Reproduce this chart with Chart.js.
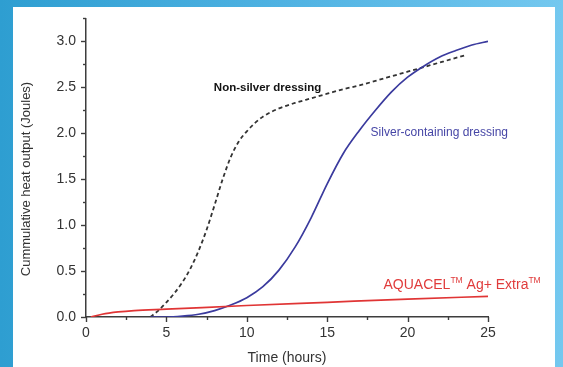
<!DOCTYPE html>
<html>
<head>
<meta charset="utf-8">
<script src="https://cdn.jsdelivr.net/npm/chart.js@4.4.1/dist/chart.umd.min.js"></script>
<style>
  html, body { margin: 0; padding: 0; }
  body { width: 563px; height: 367px; overflow: hidden; position: relative;
         background: linear-gradient(90deg, #2e9ed1 0%, #4fb2e2 50%, #74c8ef 100%); }
  #panel { position: absolute; left: 13px; top: 7px; width: 542px; height: 360px; background: #ffffff; }
  #c { position: absolute; left: 0; top: 0; }
</style>
</head>
<body>
<div id="panel"></div>
<canvas id="c" width="563" height="367"></canvas>
<script>
// ---- data ----
const nonSilverTime = [4.0, 4.5, 5.0, 5.5, 6.0, 6.5, 7.0, 7.5, 8.0, 8.5, 9.0, 9.5, 10.0, 10.5, 11.0, 12.0, 13.0, 14.0, 15.0, 16.0, 17.0, 18.0, 19.0, 20.0, 21.0, 22.0, 23.0, 23.6];
const nonSilverHeat = [0.0, 0.07, 0.16, 0.26, 0.38, 0.53, 0.72, 0.95, 1.22, 1.50, 1.74, 1.91, 2.02, 2.11, 2.18, 2.27, 2.33, 2.38, 2.43, 2.48, 2.52, 2.57, 2.62, 2.67, 2.72, 2.77, 2.82, 2.85];

const silverTime = [4.0, 5.0, 6.0, 7.0, 8.0, 9.0, 10.0, 11.0, 12.0, 13.0, 14.0, 15.0, 16.0, 17.0, 18.0, 19.0, 20.0, 21.0, 22.0, 23.0, 24.0, 25.0];
const silverHeat = [0.0, 0.0, 0.01, 0.03, 0.07, 0.13, 0.21, 0.33, 0.51, 0.76, 1.08, 1.45, 1.78, 2.03, 2.25, 2.45, 2.61, 2.73, 2.83, 2.90, 2.96, 3.0];

const aquacelTime = [0.3, 1.0, 2.0, 3.0, 5.0, 10.0, 15.0, 20.0, 25.0];
const aquacelHeat = [0.0, 0.03, 0.055, 0.07, 0.085, 0.125, 0.16, 0.195, 0.225];

const xTickStep = 5, xMinorStep = 2.5, xMin = 0, xMax = 25;
const yTickStep = 0.5, yMinorStep = 0.25, yMin = 0, yMax = 3.25;

const labelNonSilver = "Non-silver dressing";
const labelSilver = "Silver-containing dressing";
const labelAquacel = ["AQUACEL", "TM", " Ag+ Extra", "TM"];
const xTitle = "Time (hours)";
const yTitle = "Cummulative heat output (Joules)";

function pts(xs, ys) { return xs.map((x, i) => ({ x: x, y: ys[i] })); }

const FONT = "'Liberation Sans', Arial, sans-serif";
const AXIS_COLOR = '#3d3d3d';

const decorations = {
  id: 'decorations',
  afterDraw(chart) {
    const ctx = chart.ctx;
    const xs = chart.scales.x, ys = chart.scales.y;
    const area = chart.chartArea;
    ctx.save();
    ctx.strokeStyle = AXIS_COLOR;
    ctx.lineWidth = 1.4;
    for (let v = yMin; v <= yMax + 1e-9; v += yMinorStep) {
      const major = Math.abs(v / yTickStep - Math.round(v / yTickStep)) < 1e-6;
      const py = Math.round(ys.getPixelForValue(v)) + 0.5;
      ctx.beginPath();
      ctx.moveTo(area.left - (major ? 5 : 3), py);
      ctx.lineTo(area.left, py);
      ctx.stroke();
    }
    for (let v = xMin; v <= xMax + 1e-9; v += xMinorStep) {
      const major = Math.abs(v / xTickStep - Math.round(v / xTickStep)) < 1e-6;
      const px = Math.round(xs.getPixelForValue(v)) + 0.5;
      ctx.beginPath();
      ctx.moveTo(px, area.bottom);
      ctx.lineTo(px, area.bottom + (major ? 5 : 3));
      ctx.stroke();
    }
    ctx.fillStyle = '#333333';
    ctx.font = '13px ' + FONT;
    ctx.textAlign = 'center';
    ctx.textBaseline = 'middle';
    ctx.translate(26, 179);
    ctx.rotate(-Math.PI / 2);
    ctx.fillText(yTitle, 0, 0);
    ctx.restore();

    ctx.save();
    ctx.textBaseline = 'middle';
    ctx.textAlign = 'left';
    ctx.font = 'bold 11.5px ' + FONT;
    ctx.fillStyle = '#111111';
    ctx.fillText(labelNonSilver, xs.getPixelForValue(7.95), ys.getPixelForValue(2.49));

    ctx.font = '12px ' + FONT;
    ctx.fillStyle = '#4646a6';
    ctx.fillText(labelSilver, xs.getPixelForValue(17.7), ys.getPixelForValue(2.01));

    ctx.fillStyle = '#e03b3b';
    let ax = xs.getPixelForValue(18.5);
    const ay = ys.getPixelForValue(0.345);
    labelAquacel.forEach((part, i) => {
      const sup = (i % 2 === 1);
      ctx.font = (sup ? '8.5px ' : '14px ') + FONT;
      ctx.fillText(part, ax, sup ? ay - 5 : ay);
      ax += ctx.measureText(part).width;
    });
    ctx.restore();
  }
};

new Chart(document.getElementById('c'), {
  type: 'line',
  data: {
    datasets: [
      { label: 'AQUACEL Ag+ Extra', data: pts(aquacelTime, aquacelHeat), borderColor: '#e03535', borderWidth: 1.7,
        pointRadius: 0, cubicInterpolationMode: 'monotone', fill: false },
      { label: 'Silver-containing dressing', data: pts(silverTime, silverHeat), borderColor: '#3b3b9e', borderWidth: 1.7,
        pointRadius: 0, cubicInterpolationMode: 'monotone', fill: false },
      { label: 'Non-silver dressing', data: pts(nonSilverTime, nonSilverHeat), borderColor: '#333333', borderWidth: 1.8,
        borderDash: [4, 3], pointRadius: 0, cubicInterpolationMode: 'monotone', fill: false }
    ]
  },
  options: {
    responsive: false,
    animation: false,
    layout: { padding: { top: 18, right: 75, left: 0, bottom: 0 } },
    plugins: { legend: { display: false }, tooltip: { enabled: false } },
    scales: {
      x: {
        type: 'linear', min: xMin, max: xMax,
        afterFit(s) { s.height = 50; },
        grid: { display: true, drawOnChartArea: false, drawTicks: false },
        border: { display: true, color: AXIS_COLOR, width: 1.5 },
        ticks: { stepSize: xTickStep, padding: 8, color: '#333333', font: { family: FONT, size: 14 },
                 maxRotation: 0, callback: v => (v % xTickStep === 0 ? String(v) : '') },
        title: { display: true, text: xTitle, color: '#333333', font: { family: FONT, size: 14 }, padding: { top: 6, bottom: 0 } }
      },
      y: {
        type: 'linear', min: yMin, max: yMax,
        afterFit(s) { s.width = 86; },
        grid: { display: true, drawOnChartArea: false, drawTicks: false },
        border: { display: true, color: AXIS_COLOR, width: 1.5 },
        ticks: { stepSize: yTickStep, padding: 10, color: '#333333', font: { family: FONT, size: 14 },
                 callback: v => (Math.abs(v / yTickStep - Math.round(v / yTickStep)) < 1e-6 ? v.toFixed(1) : '') }
      }
    }
  },
  plugins: [decorations]
});
</script>
</body>
</html>
